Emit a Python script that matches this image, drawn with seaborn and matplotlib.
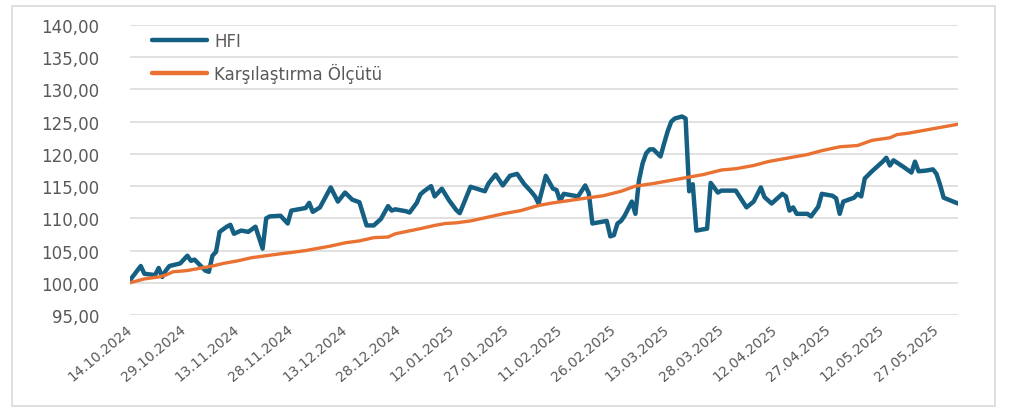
import matplotlib
matplotlib.use("Agg")
import matplotlib.pyplot as plt
import matplotlib.dates as mdates
from matplotlib.ticker import FuncFormatter
from matplotlib.patches import Rectangle
import pandas as pd
import seaborn as sns

# Fund index (HFI) observations
hfi_dates = [
    "2024-10-14", "2024-10-17", "2024-10-18", "2024-10-21", "2024-10-22", "2024-10-23",
    "2024-10-24", "2024-10-25", "2024-10-28", "2024-10-30", "2024-10-31", "2024-11-01",
    "2024-11-04", "2024-11-05", "2024-11-06", "2024-11-07", "2024-11-08", "2024-11-10",
    "2024-11-11", "2024-11-12", "2024-11-14", "2024-11-16", "2024-11-18", "2024-11-20",
    "2024-11-21", "2024-11-22", "2024-11-25", "2024-11-27", "2024-11-28", "2024-12-02",
    "2024-12-03", "2024-12-04", "2024-12-06", "2024-12-09", "2024-12-11", "2024-12-13",
    "2024-12-15", "2024-12-17", "2024-12-18", "2024-12-19", "2024-12-21", "2024-12-23",
    "2024-12-25", "2024-12-26", "2024-12-27", "2024-12-30", "2024-12-31", "2025-01-02",
    "2025-01-03", "2025-01-04", "2025-01-06", "2025-01-07", "2025-01-09", "2025-01-11",
    "2025-01-13", "2025-01-14", "2025-01-17", "2025-01-21", "2025-01-22", "2025-01-24",
    "2025-01-26", "2025-01-28", "2025-01-30", "2025-02-01", "2025-02-03", "2025-02-04",
    "2025-02-05", "2025-02-07", "2025-02-09", "2025-02-10", "2025-02-11", "2025-02-12",
    "2025-02-15", "2025-02-16", "2025-02-18", "2025-02-19", "2025-02-20", "2025-02-23",
    "2025-02-24", "2025-02-25", "2025-02-26", "2025-02-27", "2025-02-28", "2025-03-01",
    "2025-03-03", "2025-03-04", "2025-03-05", "2025-03-06", "2025-03-07", "2025-03-08",
    "2025-03-09", "2025-03-11", "2025-03-12", "2025-03-13", "2025-03-14", "2025-03-15",
    "2025-03-17", "2025-03-18", "2025-03-19", "2025-03-20", "2025-03-21", "2025-03-24",
    "2025-03-25", "2025-03-27", "2025-03-28", "2025-04-01", "2025-04-04", "2025-04-06",
    "2025-04-08", "2025-04-09", "2025-04-11", "2025-04-14", "2025-04-15", "2025-04-16",
    "2025-04-17", "2025-04-18", "2025-04-21", "2025-04-22", "2025-04-24", "2025-04-25",
    "2025-04-28", "2025-04-29", "2025-04-30", "2025-05-01", "2025-05-04", "2025-05-05",
    "2025-05-06", "2025-05-07", "2025-05-09", "2025-05-12", "2025-05-13", "2025-05-14",
    "2025-05-15", "2025-05-18", "2025-05-20", "2025-05-21", "2025-05-22", "2025-05-24",
    "2025-05-26", "2025-05-27", "2025-05-28", "2025-05-29", "2025-06-02",
]
hfi_values = [
    100.4, 102.6, 101.4, 101.2, 102.3, 100.9,
    101.9, 102.6, 103.0, 104.2, 103.4, 103.6,
    101.9, 101.7, 104.2, 104.8, 107.9, 108.7,
    109.0, 107.6, 108.1, 107.9, 108.7, 105.3,
    110.0, 110.3, 110.4, 109.2, 111.2, 111.6,
    112.4, 111.0, 111.7, 114.8, 112.6, 114.0,
    112.9, 112.5, 110.7, 108.9, 108.9, 109.9,
    111.9, 111.2, 111.4, 111.1, 110.9, 112.4,
    113.7, 114.2, 115.0, 113.4, 114.6, 112.8,
    111.3, 110.8, 114.9, 114.2, 115.4, 116.8,
    115.1, 116.6, 116.9, 115.3, 114.1, 113.4,
    112.3, 116.6, 114.6, 114.4, 112.7, 113.8,
    113.5, 113.4, 115.1, 113.9, 109.2, 109.5,
    109.6, 107.2, 107.4, 109.2, 109.6, 110.4,
    112.6, 110.7, 115.9, 118.5, 120.1, 120.7,
    120.7, 119.6, 121.6, 123.5, 125.0, 125.5,
    125.8, 125.5, 114.2, 115.3, 108.1, 108.4,
    115.5, 114.0, 114.3, 114.3, 111.7, 112.6,
    114.8, 113.3, 112.3, 113.8, 113.4, 111.2,
    111.7, 110.7, 110.7, 110.3, 111.8, 113.8,
    113.5, 113.1, 110.7, 112.6, 113.2, 113.8,
    113.4, 116.2, 117.3, 118.8, 119.4, 118.2,
    119.0, 117.9, 117.1, 118.8, 117.3, 117.4,
    117.6, 116.9, 115.2, 113.2, 112.3,
]

# Benchmark (Karşılaştırma Ölçütü) observations
bench_dates = [
    "2024-10-14", "2024-10-18", "2024-10-22", "2024-10-24", "2024-10-26", "2024-10-30",
    "2024-11-02", "2024-11-06", "2024-11-09", "2024-11-13", "2024-11-17", "2024-11-21",
    "2024-11-25", "2024-11-28", "2024-12-02", "2024-12-06", "2024-12-09", "2024-12-13",
    "2024-12-17", "2024-12-21", "2024-12-25", "2024-12-27", "2025-01-03", "2025-01-07",
    "2025-01-10", "2025-01-13", "2025-01-17", "2025-01-22", "2025-01-26", "2025-01-31",
    "2025-02-05", "2025-02-09", "2025-02-14", "2025-02-19", "2025-02-23", "2025-02-28",
    "2025-03-04", "2025-03-09", "2025-03-14", "2025-03-18", "2025-03-23", "2025-03-28",
    "2025-04-01", "2025-04-06", "2025-04-10", "2025-04-16", "2025-04-21", "2025-04-25",
    "2025-04-30", "2025-05-05", "2025-05-09", "2025-05-14", "2025-05-16", "2025-05-19",
    "2025-05-23", "2025-05-28", "2025-06-02",
]
bench_values = [
    100.0, 100.6, 100.9, 101.2, 101.7, 101.9,
    102.2, 102.6, 103.0, 103.4, 103.9, 104.2,
    104.5, 104.7, 105.0, 105.4, 105.7, 106.2,
    106.5, 107.0, 107.1, 107.6, 108.4, 108.9,
    109.2, 109.3, 109.6, 110.2, 110.7, 111.2,
    112.0, 112.4, 112.8, 113.2, 113.5, 114.2,
    115.0, 115.4, 115.9, 116.3, 116.8, 117.5,
    117.7, 118.2, 118.8, 119.4, 119.9, 120.5,
    121.1, 121.3, 122.1, 122.5, 123.0, 123.2,
    123.6, 124.1, 124.6,
]

series_names = ["HFI", "Karşılaştırma Ölçütü"]
series_colors = ["#156082", "#E97132"]
y_ticks = [95, 100, 105, 110, 115, 120, 125, 130, 135, 140]
x_tick_first = "2024-10-14"
x_tick_last = "2025-05-27"
x_start = "2024-10-14"
x_end = "2025-06-02"

hfi = pd.DataFrame({"Tarih": pd.to_datetime(hfi_dates), "Değer": hfi_values})
bench = pd.DataFrame({"Tarih": pd.to_datetime(bench_dates), "Değer": bench_values})

sns.set_theme(style="white")
plt.rcParams["font.family"] = ["DejaVu Sans"]

text_color = "#595959"
grid_color = "#d9d9d9"

W, H = 1011, 410
fig = plt.figure(figsize=(W / 100, H / 100), dpi=100)
fig.patch.set_facecolor("white")
ax = fig.add_axes([130 / W, 1 - 316 / H, (958 - 130) / W, 290 / H])

sns.lineplot(data=hfi, x="Tarih", y="Değer", ax=ax, color=series_colors[0],
             linewidth=3.2, label=series_names[0], zorder=3,
             solid_joinstyle="round", solid_capstyle="round")
sns.lineplot(data=bench, x="Tarih", y="Değer", ax=ax, color=series_colors[1],
             linewidth=2.4, label=series_names[1], zorder=4,
             solid_joinstyle="round", solid_capstyle="round")

ax.set_ylim(y_ticks[0], y_ticks[-1])
ax.set_yticks(y_ticks)
ax.yaxis.set_major_formatter(FuncFormatter(lambda v, _: f"{v:.2f}".replace(".", ",")))
ax.set_xlim(pd.Timestamp(x_start), pd.Timestamp(x_end))
ax.set_xticks(pd.date_range(x_tick_first, x_tick_last, freq="15D"))
ax.xaxis.set_major_formatter(mdates.DateFormatter("%d.%m.%Y"))

ax.grid(axis="y", color=grid_color, linewidth=1.1)
ax.grid(axis="x", visible=False)
ax.set_axisbelow(True)
for side in ["top", "right", "left", "bottom"]:
    ax.spines[side].set_visible(False)
ax.set_xlabel("")
ax.set_ylabel("")

ax.tick_params(axis="y", length=0, pad=22, labelsize=12, labelcolor=text_color)
ax.tick_params(axis="x", length=0, pad=9, labelsize=10, labelcolor=text_color)
for lbl in ax.get_xticklabels():
    lbl.set_rotation(40)
    lbl.set_ha("right")
    lbl.set_va("center")
    lbl.set_rotation_mode("anchor")

leg = ax.legend(loc="upper left", bbox_to_anchor=((152 - 130) / 828, (316 - 33) / 290),
                frameon=False, fontsize=12, handlelength=3.3, handletextpad=0.45,
                labelspacing=0.75, borderpad=0, borderaxespad=0)
for line in leg.get_lines():
    line.set_linewidth(3.2)
for t in leg.get_texts():
    t.set_color(text_color)

fig.patches.append(Rectangle((12 / W, 1 - 407 / H), (995 - 12) / W, 400 / H,
                             transform=fig.transFigure, fill=False,
                             edgecolor=grid_color, linewidth=1.2))

fig.savefig("out.png", dpi=100)
